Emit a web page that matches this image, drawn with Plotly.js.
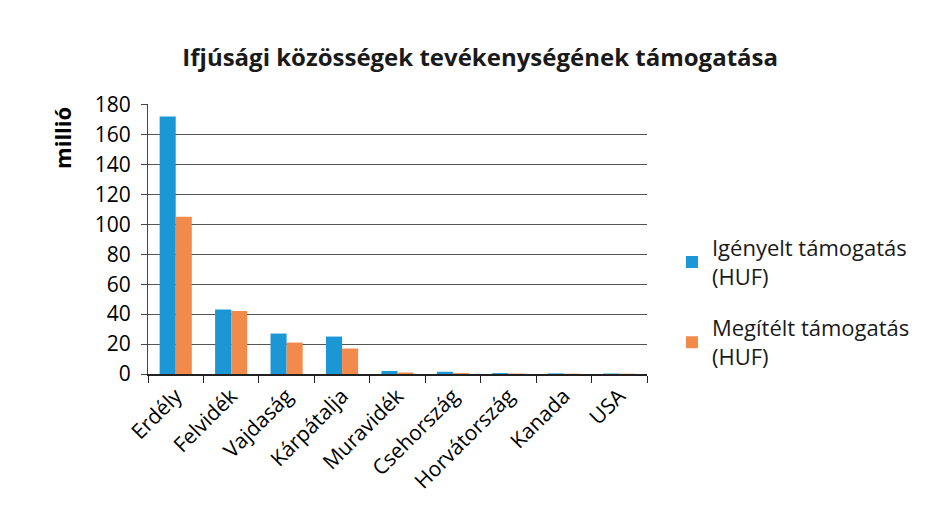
<!DOCTYPE html>
<html><head><meta charset="utf-8">
<script src="https://cdn.plot.ly/plotly-3.0.1.min.js"></script>
<style>body{margin:0;background:#fff}#c{width:936px;height:526px}</style>
</head><body><div id="c"></div>
<script>
const categories = ["Erdély","Felvidék","Vajdaság","Kárpátalja","Muravidék","Csehország","Horvátország","Kanada","USA"];
const igenyelt = [172, 43, 27, 25, 2, 1.5, 0.6, 0.4, 0.3];
const megitelt = [105, 42, 21, 17, 1, 0.6, 0.3, 0.2, 0.2];
const seriesNames = ["Igényelt támogatás<br>(HUF)", "Megítélt támogatás<br>(HUF)"];
const yTicks = [0,20,40,60,80,100,120,140,160,180];
const yTitle = "<b>millió</b>";
const chartTitle = "<b>Ifjúsági közösségek tevékenységének támogatása</b>";

const font = "Open Sans, Liberation Sans, sans-serif";
Plotly.newPlot("c", [
  {type:"bar", x:categories, y:igenyelt, name:seriesNames[0], legendgroup:"g1", marker:{color:"#1b97d6"}},
  {type:"bar", x:categories, y:megitelt, name:seriesNames[1], legendgroup:"g2", marker:{color:"#f28a4b"}}
], {
  width:936, height:526,
  paper_bgcolor:"#fff", plot_bgcolor:"#fff",
  margin:{l:148, r:289, t:104, b:152},
  title:{text:chartTitle, x:0.513, xanchor:"center", y:0.89, yanchor:"middle", font:{family:font, size:24, color:"#1a1a1a"}},
  bargap:0.42, bargroupgap:0,
  barmode:"group",
  xaxis:{tickangle:-45, tickfont:{family:font, size:21, color:"#000"}, showline:true, linecolor:"#222", linewidth:1.5, ticks:"outside", tickson:"boundaries", ticklen:7, tickcolor:"#222", showgrid:false},
  yaxis:{range:[0,180.3], tickvals:yTicks, tickfont:{family:font, size:21, color:"#000"}, showline:true, linecolor:"#444", ticks:"outside", ticklen:6, tickcolor:"#444", ticklabelstandoff:6, gridcolor:"#555", gridwidth:1, zeroline:false},
  annotations:[{text:yTitle, xref:"paper", yref:"paper", x:-0.172, y:0.875, xanchor:"center", yanchor:"middle", textangle:-90, showarrow:false, font:{family:font, size:22, color:"#000"}}],
  legend:{x:1.05, y:0.545, xanchor:"left", yanchor:"top", traceorder:"grouped", font:{family:font, size:22, color:"#1a1a1a"}, tracegroupgap:20, itemwidth:30},
  showlegend:true
}, {staticPlot:true});
</script></body></html>
